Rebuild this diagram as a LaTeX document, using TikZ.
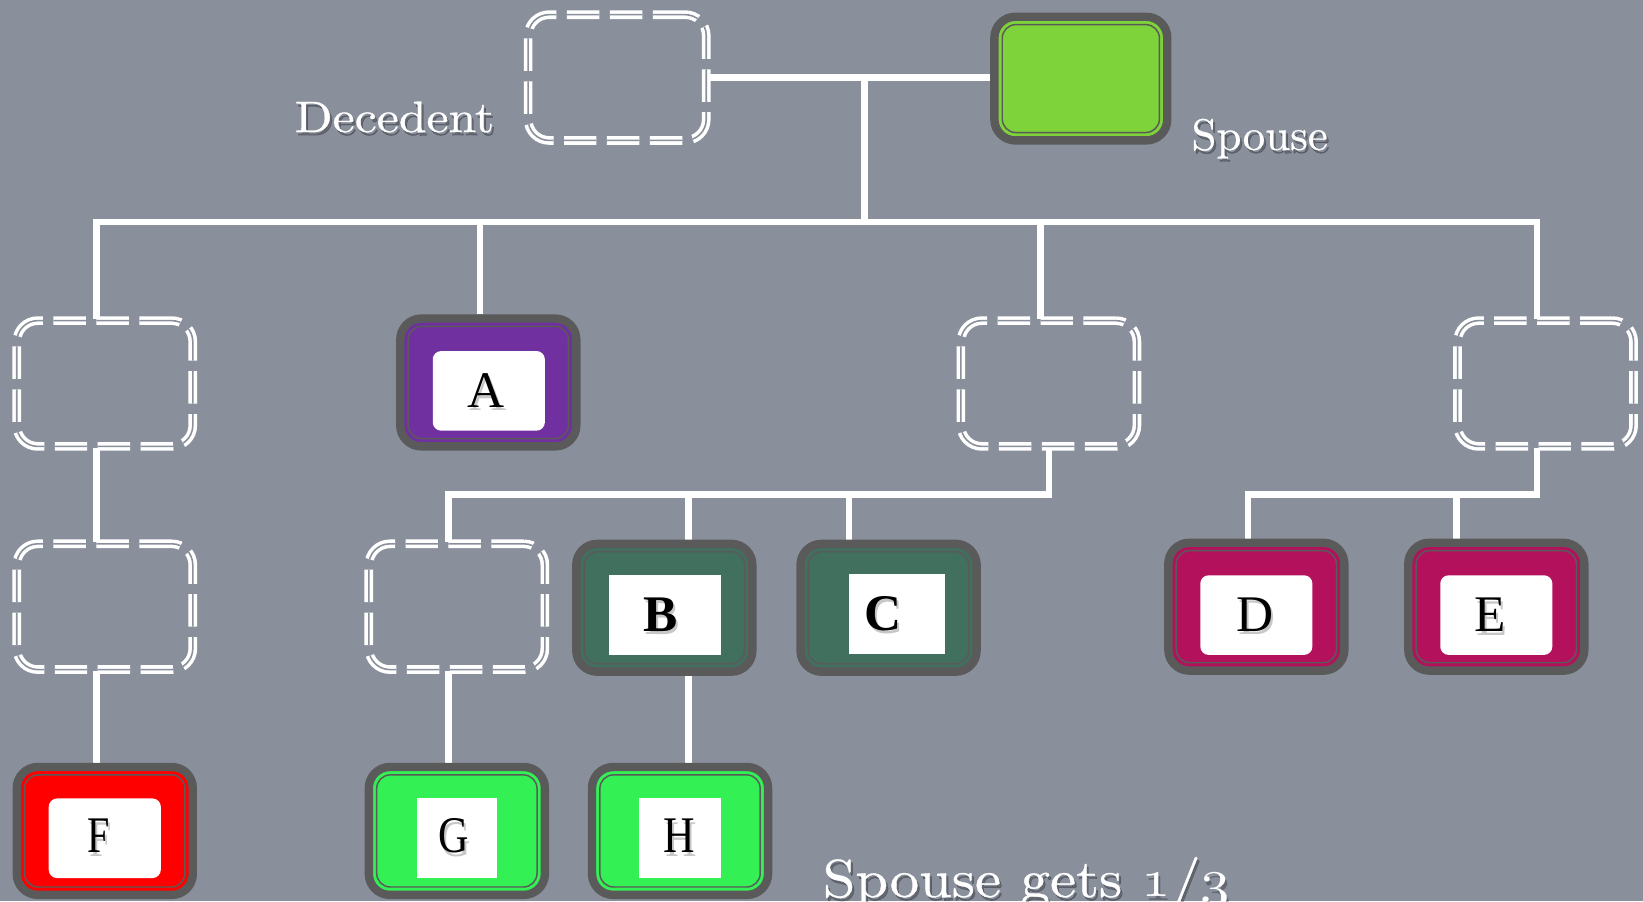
\documentclass[tikz,border=0pt]{standalone}
\usepackage{graphicx}
\usepackage{fontspec}
\newfontfamily\capfont{lmroman10-regular.otf}[FakeBold=0.6]
\newfontfamily\tagfont{Liberation Serif}
% scalable old-style figures for the fraction
\DeclareFontShape{OML}{cmm}{m}{it}{<->cmmi10}{}
\definecolor{bgc}{RGB}{137,144,156}
\definecolor{ring}{RGB}{90,90,90}
\definecolor{cpurple}{RGB}{112,48,160}
\definecolor{cspouse}{RGB}{126,210,58}
\definecolor{cteal}{RGB}{65,112,94}
\definecolor{cmagenta}{RGB}{179,17,92}
\definecolor{cred}{RGB}{255,0,0}
\definecolor{clime}{RGB}{51,240,85}
\pgfdeclarelayer{back}
\pgfdeclarelayer{wires}
\pgfsetlayers{back,wires,main}
\newcommand\boxrim[1]{%
  \draw[ring, line width=1.4pt, rounded corners=13pt]
    ([shift={(11.5,11.5)}]#1.north west) rectangle ([shift={(-11.5,-11.5)}]#1.south east);}
\newcommand\oldthird{$\mathnormal{1}$/$\mathnormal{3}$}
\begin{document}
\begin{tikzpicture}[x=1pt, y=-1pt,
  wire/.style={draw=white, line width=6pt},
  dbox/.style={rectangle, rounded corners=20pt, draw=white, double=bgc,
    line width=3.4pt, double distance=1.5pt, dash pattern=on 31pt off 10pt,
    minimum width=168pt, minimum height=120pt, inner sep=0pt},
  pbox/.style={rectangle, rounded corners=20pt, draw=ring, line width=8pt,
    fill=#1, minimum width=168pt, minimum height=122pt, inner sep=0pt},
  tagr/.style={fill=white, rounded corners=8pt, minimum width=107pt,
    minimum height=76pt, inner sep=0pt},
  tags/.style={fill=white, minimum height=76pt, inner sep=0pt, minimum width=#1},
  letter/.style={inner sep=0pt, font=\tagfont\fontsize{49}{49}\selectfont},
  lettersh/.style={letter, text=black, opacity=0.22},
  lbl/.style={inner sep=0pt, text=white},
  lblsh/.style={inner sep=0pt, text=black, opacity=0.28},
  big/.style={font=\capfont\fontsize{42}{42}\selectfont},
  bigger/.style={font=\capfont\fontsize{51}{51}\selectfont}
]
\useasboundingbox (0,0) rectangle (1568,860);
\begin{pgfonlayer}{back}
  \fill[bgc] (0,0) rectangle (1568,860);
\end{pgfonlayer}

% couple
\node[dbox, minimum width=170pt] (dec) at (589,74) {};
\node[pbox=cspouse, minimum width=165pt, minimum height=118pt] (sp) at (1031.5,75) {};
\boxrim{sp}

% children
\node[dbox] (L1) at (100,366) {};
\node[pbox=cpurple] (A) at (466,365) {};
\boxrim{A}
\node[dbox] (M) at (1001,366) {};
\node[dbox] (R) at (1475,366) {};

% grandchildren
\node[dbox] (L2) at (100,579) {};
\node[dbox] (GP) at (436,579) {};
\node[pbox=cteal] (B) at (634,580) {};
\boxrim{B}
\node[pbox=cteal] (C) at (848,580) {};
\boxrim{C}
\node[pbox=cmagenta] (D) at (1199,579) {};
\boxrim{D}
\node[pbox=cmagenta] (E) at (1428,579) {};
\boxrim{E}

% great-grandchildren
\node[pbox=cred] (F) at (100,793) {};
\boxrim{F}
\node[pbox=clime] (G) at (436,793) {};
\boxrim{G}
\node[pbox=clime] (H) at (649,793) {};
\boxrim{H}

% connectors
\begin{pgfonlayer}{wires}
  \draw[wire] (dec.east) -- (dec.east -| sp.west);
  \coordinate (j0) at (825,74);
  \coordinate (bus1) at (825,212);
  \coordinate (bus2) at (1001,472);
  \draw[wire] (j0) -- (bus1);
  \coordinate (pL1) at ([xshift=-8pt]L1.north);
  \coordinate (pA) at ([xshift=-8pt]A.north);
  \coordinate (pM) at ([xshift=-8pt]M.north);
  \coordinate (pR) at ([xshift=-8pt]R.north);
  \draw[wire] (pL1) |- (bus1) -| (pR);
  \draw[wire] (pA) -- (pA |- bus1);
  \draw[wire] (pM) -- (pM |- bus1);
  \coordinate (qGP) at ([xshift=-8pt]GP.north);
  \coordinate (qB) at ([xshift=23pt]B.north);
  \coordinate (qC) at ([xshift=-38pt]C.north);
  \draw[wire] (M.south) |- (qGP |- bus2) -- (qGP);
  \draw[wire] (qB) -- (qB |- bus2);
  \draw[wire] (qC) -- (qC |- bus2);
  \coordinate (rR) at ([xshift=-8pt]R.south);
  \coordinate (qD) at ([xshift=-8pt]D.north);
  \coordinate (qE) at ([xshift=-38pt]E.north);
  \draw[wire] (rR) |- (qD |- bus2) -- (qD);
  \draw[wire] (qE) -- (qE |- bus2);
  \draw[wire] ([xshift=-8pt]L1.south) -- ([xshift=-8pt]L2.north);
  \draw[wire] ([xshift=-8pt]L2.south) -- ([xshift=-8pt]F.north);
  \draw[wire] ([xshift=-8pt]GP.south) -- ([xshift=-8pt]G.north);
  \draw[wire] ([xshift=23pt]B.south) -- ([xshift=8pt]H.north);
\end{pgfonlayer}

% name plates
\node[tagr] (wA) at (466.5,373) {};
\node[lettersh] (sA) at (465.5,376) {A};
\node[letter] (tA) at (463.5,373) {A};

\node[tags=107pt] (wB) at (634.5,587) {};
\node[lettersh] (sB) at (632,590) {\bfseries B};
\node[letter] (tB) at (630,587) {\bfseries B};

\node[tags=92pt] (wC) at (856,586) {};
\node[lettersh] (sC) at (845,589) {\bfseries C};
\node[letter] (tC) at (843,586) {\bfseries C};

\node[tagr] (wD) at (1199,587) {};
\node[lettersh] (sD) at (1200,590) {D};
\node[letter] (tD) at (1198,587) {D};

\node[tagr] (wE) at (1428,587) {};
\node[lettersh] (sE) at (1424,590) {E};
\node[letter] (tE) at (1422,587) {E};

\node[tagr] (wF) at (100,800) {};
\node[lettersh] (sF) at (96,801) {\scalebox{0.78}[1]{F}};
\node[letter] (tF) at (94,798) {\scalebox{0.78}[1]{F}};

\node[tags=76pt] (wG) at (436,800) {};
\node[lettersh] (sG) at (435,801) {\scalebox{0.82}[1]{G}};
\node[letter] (tG) at (433,798) {\scalebox{0.82}[1]{G}};

\node[tags=78pt] (wH) at (649,800) {};
\node[lettersh] (sH) at (650,801) {\scalebox{0.85}[1]{H}};
\node[letter] (tH) at (648,798) {\scalebox{0.85}[1]{H}};

% captions
\node[lblsh, big, anchor=base west] (decs) at (283,129) {\scalebox{1.13}[1]{Decedent}};
\node[lbl, big, anchor=base west] (decl) at (281,126) {\scalebox{1.13}[1]{Decedent}};
\node[lblsh, big, anchor=base west] (sps) at (1139,146) {\scalebox{1.02}[1]{Spouse}};
\node[lbl, big, anchor=base west] (spl) at (1137,143) {\scalebox{1.02}[1]{Spouse}};
\node[lblsh, bigger, anchor=base west] (shs) at (787,859)
  {\scalebox{1.1}[1]{Spouse gets \oldthird}};
\node[lbl, bigger, anchor=base west] (shl) at (785,856)
  {\scalebox{1.1}[1]{Spouse gets \oldthird}};
\end{tikzpicture}
\end{document}
